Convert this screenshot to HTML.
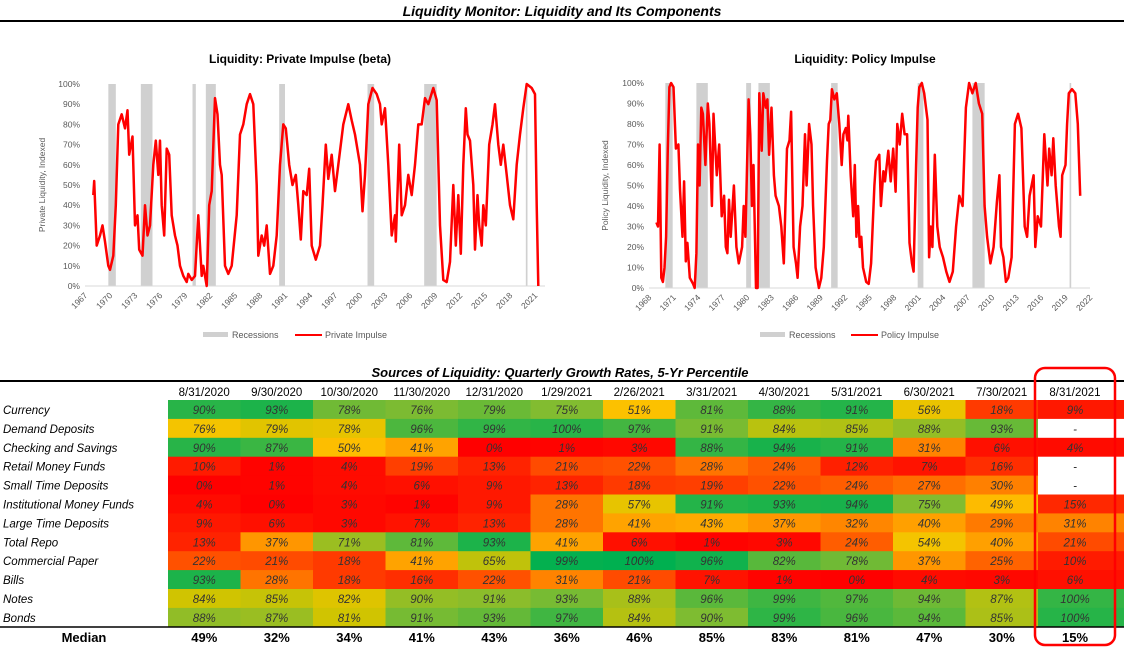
<!DOCTYPE html>
<html><head><meta charset="utf-8"><style>
body{margin:0;width:1124px;height:647px;background:#fff;overflow:hidden;font-family:"Liberation Sans",sans-serif;position:relative}
svg{position:absolute;left:0;top:0}
</style></head><body>
<svg id="chart" width="1124" height="647"></svg>
<script>
// ---- Private impulse data ----
const privYears=[1968.0,1968.1,1968.4,1968.8,1969.1,1969.4,1969.8,1970.0,1970.4,1970.7,1971.0,1971.4,1971.8,1972.1,1972.3,1972.7,1973.0,1973.3,1973.5,1973.9,1974.2,1974.5,1974.8,1975.2,1975.5,1975.8,1976.0,1976.2,1976.5,1976.8,1977.1,1977.4,1977.8,1978.1,1978.4,1978.8,1979.2,1979.4,1979.8,1980.2,1980.6,1981.0,1981.2,1981.6,1981.9,1982.2,1982.6,1982.9,1983.2,1983.4,1983.8,1984.2,1984.6,1985.2,1985.6,1986.0,1986.4,1986.8,1987.2,1987.6,1987.8,1988.2,1988.5,1988.8,1989.2,1989.6,1990.0,1990.4,1990.8,1991.1,1991.5,1991.9,1992.3,1992.6,1992.9,1993.2,1993.6,1993.9,1994.2,1994.7,1995.2,1995.5,1995.9,1996.2,1996.6,1997.0,1997.4,1998.0,1998.6,1999.0,1999.4,2000.0,2000.3,2000.6,2001.0,2001.5,2002.0,2002.4,2002.6,2003.0,2003.4,2003.8,2004.2,2004.3,2004.7,2005.0,2005.4,2005.8,2006.2,2006.6,2007.0,2007.4,2007.8,2008.2,2008.8,2009.2,2009.6,2010.0,2010.4,2010.8,2011.2,2011.5,2011.8,2012.1,2012.4,2012.7,2012.9,2013.2,2013.6,2013.8,2014.1,2014.3,2014.6,2014.8,2015.1,2015.5,2015.9,2016.2,2016.6,2016.9,2017.2,2017.6,2018.0,2018.4,2018.8,2019.2,2019.6,2020.0,2020.6,2021.0,2021.2,2021.4];
const privValues=[45,52,20,25,30,22,10,8,15,40,80,85,78,87,65,74,30,35,18,15,40,25,30,60,72,55,72,40,25,68,65,35,25,20,10,5,2,6,3,5,35,5,10,0,40,47,93,85,60,55,10,6,10,35,75,80,90,95,90,50,15,25,20,30,6,10,25,60,80,78,60,50,55,40,23,47,45,58,20,13,20,40,70,53,65,47,60,80,90,82,75,60,37,55,90,98,95,90,80,88,60,25,35,22,70,35,40,55,45,60,80,80,93,90,98,92,30,3,2,12,50,20,45,16,60,88,75,72,50,18,45,30,20,40,30,70,80,90,70,60,70,55,40,33,60,75,88,100,98,95,40,0];
const privRecStart=[1969.8,1973.7,1979.9,1981.5,1990.3,2000.9,2007.7,2019.9];
const privRecEnd=[1970.7,1975.1,1980.3,1982.7,1991.0,2001.7,2009.2,2020.1];
const privTicks=[1967,1970,1973,1976,1979,1982,1985,1988,1991,1994,1997,2000,2003,2006,2009,2012,2015,2018,2021];
// ---- Policy impulse data ----
const polYears=[1968.9,1969.1,1969.3,1969.5,1969.7,1969.9,1970.1,1970.3,1970.5,1970.7,1971.0,1971.3,1971.6,1971.8,1972.1,1972.3,1972.5,1972.7,1973.0,1973.4,1973.6,1973.8,1974.0,1974.2,1974.4,1974.6,1974.9,1975.2,1975.4,1975.7,1975.9,1976.1,1976.3,1976.6,1976.9,1977.2,1977.4,1977.6,1977.8,1978.0,1978.4,1978.7,1979.0,1979.4,1979.6,1979.8,1980.2,1980.4,1980.6,1980.8,1981.1,1981.3,1981.5,1981.8,1982.0,1982.3,1982.5,1982.7,1983.0,1983.3,1983.5,1983.9,1984.2,1984.5,1984.9,1985.2,1985.4,1985.7,1986.0,1986.2,1986.5,1986.8,1987.1,1987.3,1987.6,1987.9,1988.1,1988.4,1988.8,1989.1,1989.4,1989.8,1990.0,1990.2,1990.4,1990.7,1991.0,1991.3,1991.6,1991.8,1992.1,1992.3,1992.4,1992.7,1993.0,1993.2,1993.4,1993.6,1993.8,1994.0,1994.2,1994.6,1994.9,1995.2,1995.6,1995.8,1996.2,1996.4,1996.7,1996.9,1997.3,1997.6,1997.9,1998.2,1998.4,1998.7,1999.0,1999.3,1999.6,1999.9,2000.2,2000.4,2000.7,2000.9,2001.1,2001.4,2001.7,2002.1,2002.3,2002.5,2002.7,2003.0,2003.3,2003.6,2004.0,2004.4,2004.8,2005.2,2005.6,2006.0,2006.4,2006.8,2007.2,2007.6,2008.0,2008.4,2008.8,2009.1,2009.4,2009.8,2010.2,2010.6,2010.9,2011.1,2011.4,2011.7,2012.0,2012.4,2012.8,2013.2,2013.6,2014.0,2014.3,2014.6,2015.1,2015.3,2015.6,2016.0,2016.4,2016.8,2017.0,2017.3,2017.5,2017.8,2018.2,2018.4,2018.6,2019.0,2019.2,2019.4,2019.8,2020.2,2020.5,2020.8];
const polValues=[32,30,70,5,3,10,25,68,98,100,98,68,70,48,25,52,13,22,5,2,0,17,70,50,88,85,60,90,80,40,85,70,55,70,35,45,20,17,43,25,50,20,12,20,40,25,92,75,40,60,0,0,95,67,95,88,92,65,88,55,45,40,30,12,68,72,86,20,12,5,30,40,75,50,80,70,40,10,0,5,20,62,80,82,97,92,95,80,60,75,78,72,84,55,35,60,25,40,20,25,10,3,2,12,50,62,65,40,57,52,67,52,68,47,80,70,85,75,75,22,12,8,60,88,98,100,95,82,15,30,20,65,30,20,15,8,3,8,30,45,40,88,100,95,100,90,85,40,25,12,20,42,55,20,15,3,5,15,80,85,78,30,25,45,55,20,35,30,75,50,68,55,73,50,30,25,55,60,80,95,97,95,80,45];
const polRecStart=[1970.0,1973.8,1979.9,1981.4,1990.3,2000.9,2007.6,2019.5];
const polRecEnd=[1970.9,1975.2,1980.5,1982.8,1991.1,2001.6,2009.1,2019.7];
const polTicks=[1968,1971,1974,1977,1980,1983,1986,1989,1992,1995,1998,2001,2004,2007,2010,2013,2016,2019,2022];
const pctTicks=[0,10,20,30,40,50,60,70,80,90,100];
// ---- Table data ----
const dates=["8/31/2020","9/30/2020","10/30/2020","11/30/2020","12/31/2020","1/29/2021","2/26/2021","3/31/2021","4/30/2021","5/31/2021","6/30/2021","7/30/2021","8/31/2021"];
const rowLabels=["Currency","Demand Deposits","Checking and Savings","Retail Money Funds","Small Time Deposits","Institutional Money Funds","Large Time Deposits","Total Repo","Commercial Paper","Bills","Notes","Bonds"];
const r0=[90,93,78,76,79,75,51,81,88,91,56,18,9];
const r1=[76,79,78,96,99,100,97,91,84,85,88,93,null];
const r2=[90,87,50,41,0,1,3,88,94,91,31,6,4];
const r3=[10,1,4,19,13,21,22,28,24,12,7,16,null];
const r4=[0,1,4,6,9,13,18,19,22,24,27,30,null];
const r5=[4,0,3,1,9,28,57,91,93,94,75,49,15];
const r6=[9,6,3,7,13,28,41,43,37,32,40,29,31];
const r7=[13,37,71,81,93,41,6,1,3,24,54,40,21];
const r8=[22,21,18,41,65,99,100,96,82,78,37,25,10];
const r9=[93,28,18,16,22,31,21,7,1,0,4,3,6];
const r10=[84,85,82,90,91,93,88,96,99,97,94,87,100];
const r11=[88,87,81,91,93,97,84,90,99,96,94,85,100];
const medians=[49,32,34,41,43,36,46,85,83,81,47,30,15];
const tableRows=[r0,r1,r2,r3,r4,r5,r6,r7,r8,r9,r10,r11];
// colour-scale offsets per row (styling)
const rowShift=[0,25,0,0,0,0,0,0,0,0,30,24];

const NS="http://www.w3.org/2000/svg";
const svg=document.getElementById('chart');
function mk(tag,attrs,parent,text){const e=document.createElementNS(NS,tag);for(const k in attrs)e.setAttribute(k,attrs[k]);if(text!==undefined)e.textContent=text;(parent||svg).appendChild(e);return e;}

let t=mk('text',{x:562,y:16,'text-anchor':'middle','font-size':14,'font-weight':'bold','font-style':'italic',fill:'#000'},svg,'Liquidity Monitor: Liquidity and Its Components');


let ln=mk('line',{x1:0,x2:1124,y1:21,y2:21,stroke:'#000','stroke-width':2});



function drawChart(o){
  const g=mk('g',{});
  
  
  const xS=v=>o.x0+(v-o.d0)/(o.d1-o.d0)*(o.x1-o.x0);
  const yS=v=>o.yb-(v/100)*(o.yb-o.yt);
  let tt=mk('text',{x:o.titleX,y:63,'text-anchor':'middle','font-size':12,'font-weight':'bold',fill:'#000'},g,o.title);
  
  
  for(let i=0;i<o.rs.length;i++){
    const r=mk('rect',{x:xS(o.rs[i]),y:o.yt,width:Math.max(1.5,xS(o.re[i])-xS(o.rs[i])),height:o.yb-o.yt,fill:'#d0d0d0'},g);
    
    
  }
  for(const p of pctTicks){
    const l=mk('text',{x:o.x0-5,y:yS(p)+3,'text-anchor':'end','font-size':8.5,fill:'#595959'},g,p+'%');
    
    
  }
  const ax=mk('line',{x1:o.x0,x2:o.x1,y1:o.yb,y2:o.yb,stroke:'#d9d9d9','stroke-width':1},g);
  
  
  for(const yr of o.ticks){
    const x=xS(yr);
    const l=mk('text',{x:x+3,y:o.yb+10,'text-anchor':'end','font-size':8.5,fill:'#595959',transform:`rotate(-45 ${x+3} ${o.yb+10})`},g,String(yr));
    
    
  }
  const cy=(o.yt+o.yb)/2;
  const yt=mk('text',{x:o.ytx,y:cy,'text-anchor':'middle','font-size':8.5,fill:'#595959',transform:`rotate(-90 ${o.ytx} ${cy})`},g,o.ytitle);
  
  
  let d='';
  for(let i=0;i<o.xs.length;i++)d+=(i?'L':'M')+xS(o.xs[i]).toFixed(1)+' '+yS(o.ys[i]).toFixed(1);
  const pth=mk('path',{d:d,fill:'none',stroke:'#ff0000','stroke-width':2.5,'stroke-linejoin':'round'},g);
  
  
  const lg=mk('g',{},g);
  
  
  const sw=mk('rect',{x:o.lx,y:332,width:25,height:5,fill:'#d0d0d0'},lg);
  
  
  const l1=mk('text',{x:o.lx+29,y:338,'font-size':9,fill:'#595959'},lg,'Recessions');
  
  
  const rl=mk('line',{x1:o.lx2,x2:o.lx2+27,y1:335,y2:335,stroke:'#ff0000','stroke-width':2},lg);
  
  
  const l2=mk('text',{x:o.lx2+30,y:338,'font-size':9,fill:'#595959'},lg,o.legendName);
  
  
}
drawChart({name:'private-impulse-chart',title:'Liquidity: Private Impulse (beta)',titleX:300,x0:85,x1:545,d0:1967,d1:2022.2,yt:84,yb:286,xs:privYears,ys:privValues,rs:privRecStart,re:privRecEnd,ticks:privTicks,ytitle:'Private Liquidity, Indexed',ytx:45,seriesName:'private-impulse-line',lx:203,lx2:295,legendName:'Private Impulse'});
drawChart({name:'policy-impulse-chart',title:'Liquidity: Policy Impulse',titleX:865,x0:649,x1:1090,d0:1968,d1:2022,yt:83,yb:288,xs:polYears,ys:polValues,rs:polRecStart,re:polRecEnd,ticks:polTicks,ytitle:'Policy Liquidity, Indexed',ytx:608,seriesName:'policy-impulse-line',lx:760,lx2:851,legendName:'Policy Impulse'});

const st=mk('text',{x:560,y:377,'text-anchor':'middle','font-size':13,'font-weight':'bold','font-style':'italic',fill:'#000'},svg,'Sources of Liquidity: Quarterly Growth Rates, 5-Yr Percentile');


const tg=mk('g',{});


const stops=[[0,[255,0,0]],[15,[255,40,0]],[30,[255,128,0]],[45,[255,176,0]],[52,[252,196,0]],[62,[210,196,0]],[75,[130,188,48]],[90,[40,180,72]],[100,[0,176,80]]];
function col(v){v=Math.max(0,Math.min(100,v));for(let i=1;i<stops.length;i++){if(v<=stops[i][0]){const a=stops[i-1],b=stops[i],f=(v-a[0])/(b[0]-a[0]);return 'rgb('+a[1].map((c,k)=>Math.round(c+(b[1][k]-c)*f)).join(',')+')';}}return 'rgb(0,176,80)';}
const cx0=168,cw=72.5,rt=400,rh=18.9;
function colX(j){return cx0+j*cw;}
function colW(j){return j===12?1124-colX(j):cw;}
const tl=mk('line',{x1:0,x2:1124,y1:381,y2:381,stroke:'#000','stroke-width':2},tg);


dates.forEach((dt,j)=>{
  const h=mk('text',{x:colX(j)+colW(j)/2-(j===12?6:0),y:396,'text-anchor':'middle','font-size':11.5,fill:'#000'},tg,dt);
  
  
});
tableRows.forEach((row,i)=>{
  const y=rt+i*rh;
  const lb=mk('text',{x:3,y:y+14,'font-size':11.5,'font-style':'italic',fill:'#000'},tg,rowLabels[i]);
  
  
  row.forEach((v,j)=>{
    const c=mk('rect',{x:colX(j),y:y,width:colW(j)+0.5,height:rh+0.5,fill:v===null?'#fff':col(v-rowShift[i]*(1-(v-70)/30*0.6))},tg);
    
    
    const tx=mk('text',{x:colX(j)+colW(j)/2-(j===12?6:0),y:y+14,'text-anchor':'middle','font-size':11.5,'font-style':'italic',fill:'#333'},tg,v===null?'-':v+'%');
    
    
  });
});
const bl=mk('line',{x1:0,x2:1124,y1:627,y2:627,stroke:'#000','stroke-width':1.5},tg);


const ml=mk('text',{x:84,y:642,'text-anchor':'middle','font-size':13,'font-weight':'bold',fill:'#000'},tg,'Median');


medians.forEach((m,j)=>{
  const e=mk('text',{x:colX(j)+colW(j)/2-(j===12?6:0),y:642,'text-anchor':'middle','font-size':13,'font-weight':'bold',fill:'#000'},tg,m+'%');
  
  
});
const hl=mk('rect',{x:1035,y:368,width:80,height:277,rx:10,ry:10,fill:'none',stroke:'#ff0000','stroke-width':2.5},tg);


</script>
</body></html>
